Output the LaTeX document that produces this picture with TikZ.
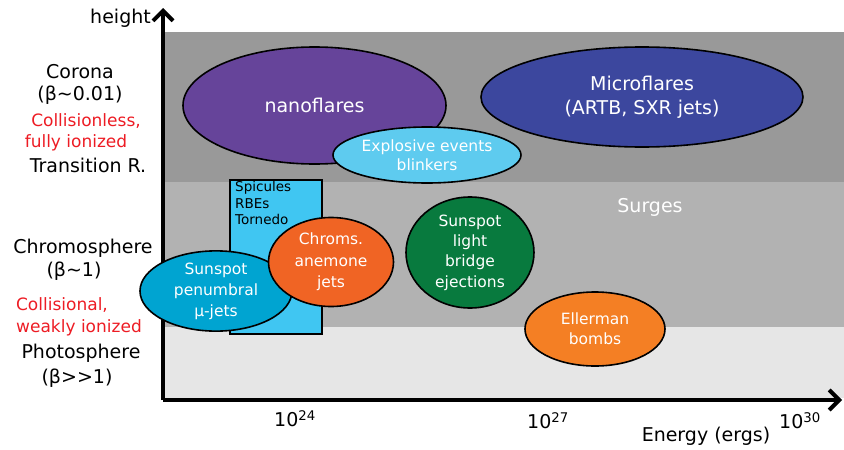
\documentclass[tikz,border=0pt]{standalone}
\usepackage{fontspec}
\setmainfont{DejaVu Sans}
\usetikzlibrary{shapes.geometric,arrows.meta}
\definecolor{banddark}{HTML}{999999}
\definecolor{bandmid}{HTML}{B2B2B2}
\definecolor{bandlight}{HTML}{E6E6E6}
\definecolor{nanoc}{HTML}{66449A}
\definecolor{microc}{HTML}{3C479E}
\definecolor{explc}{HTML}{5ECBEF}
\definecolor{spicc}{HTML}{40C6F2}
\definecolor{anemc}{HTML}{F06424}
\definecolor{penuc}{HTML}{00A4D1}
\definecolor{bridgec}{HTML}{087A3E}
\definecolor{ellerc}{HTML}{F47F24}
\definecolor{redtxt}{HTML}{ED1C24}
\tikzset{
  blob/.style={ellipse, draw=black, line width=1.6pt, inner sep=0pt, align=center, text=white},
  lbl/.style={inner sep=0pt, align=center, font=\fontsize{19}{23}\selectfont},
  redlbl/.style={inner sep=0pt, align=center, text=redtxt, font=\fontsize{17}{21}\selectfont},
  axisline/.style={line width=4pt, -{Straight Barb[length=10pt,width=20pt,line width=4pt]}}
}
\begin{document}
\begin{tikzpicture}[x=1pt,y=-1pt]
\useasboundingbox (0,0) rectangle (844,450);
% bands
\fill[banddark] (163,32) rectangle (844,182);
\fill[bandmid] (163,182) rectangle (844,327);
\fill[bandlight] (163,327) rectangle (844,398);
% axes
\coordinate (origin) at (163,400);
\coordinate (ytop) at (163,8);
\coordinate (xend) at (842,400);
\draw[axisline] (origin) -- (ytop);
\draw[axisline] (origin) -- (xend);
% left labels
\node[lbl, anchor=east] (height) at (151,18) {height};
\node[lbl] (corona) at (80,72) {Corona};
\node[lbl] (betac) at (80,95) {(β\textasciitilde0.01)};
\node[redlbl] (coll1) at (86,121) {Collisionless,};
\node[redlbl] (coll2) at (76,143) {fully ionized};
\node[lbl] (trans) at (88,165) {Transition R.};
\node[lbl] (chromo) at (83,248) {Chromosphere};
\node[lbl] (betach) at (74,271) {(β\textasciitilde1)};
\node[redlbl] (coll3) at (62,305) {Collisional,};
\node[redlbl] (coll4) at (79,328) {weakly ionized};
\node[lbl] (photo) at (81,353) {Photosphere};
\node[lbl] (betap) at (77,378) {(β>{}>1)};
% tick labels
\node[lbl] (e24) at (295,419) {10\textsuperscript{24}};
\node[lbl] (e27) at (548,421) {10\textsuperscript{27}};
\node[lbl] (e30) at (800,421) {10\textsuperscript{30}};
\node[lbl] (energy) at (706,436) {Energy (ergs)};
% coronal events
\node[blob, fill=nanoc, minimum width=263pt, minimum height=117pt, font=\fontsize{19}{23}\selectfont] (nano) at (314.5,105.5) {nanoflares};
\node[blob, fill=microc, minimum width=322pt, minimum height=100pt, font=\fontsize{19}{24}\selectfont] (micro) at (642,97) {Microflares\\(ARTB, SXR jets)};
\node[blob, fill=explc, minimum width=188pt, minimum height=56pt, font=\fontsize{15.5}{19}\selectfont] (expl) at (427,155) {Explosive events\\blinkers};
% surges
\node[lbl, text=white] (surges) at (650,207) {Surges};
% spicules box
\node[draw=black, line width=1.4pt, fill=spicc, minimum width=92pt, minimum height=154pt, inner sep=0pt] (spic) at (276,257) {};
\node[anchor=north west, inner sep=0pt, align=left, font=\fontsize{13.5}{16.5}\selectfont] (spictxt) at (235,181.5) {Spicules\\RBEs\\Tornedo};
% chromospheric events
\node[blob, fill=penuc, minimum width=152pt, minimum height=74pt, font=\fontsize{15.5}{21}\selectfont] (penu) at (216,291) {Sunspot\\penumbral\\μ-jets};
\node[blob, fill=anemc, minimum width=125pt, minimum height=89pt, font=\fontsize{15.5}{21.5}\selectfont] (anem) at (331,262) {Chroms.\\anemone\\jets};
\node[blob, fill=bridgec, minimum width=128pt, minimum height=111pt, font=\fontsize{15.5}{20.3}\selectfont] (bridge) at (470,252.5) {Sunspot\\light\\bridge\\ejections};
\node[blob, fill=ellerc, minimum width=140pt, minimum height=74pt, font=\fontsize{15.5}{20}\selectfont] (eller) at (595,329) {Ellerman\\bombs};
\end{tikzpicture}
\end{document}
